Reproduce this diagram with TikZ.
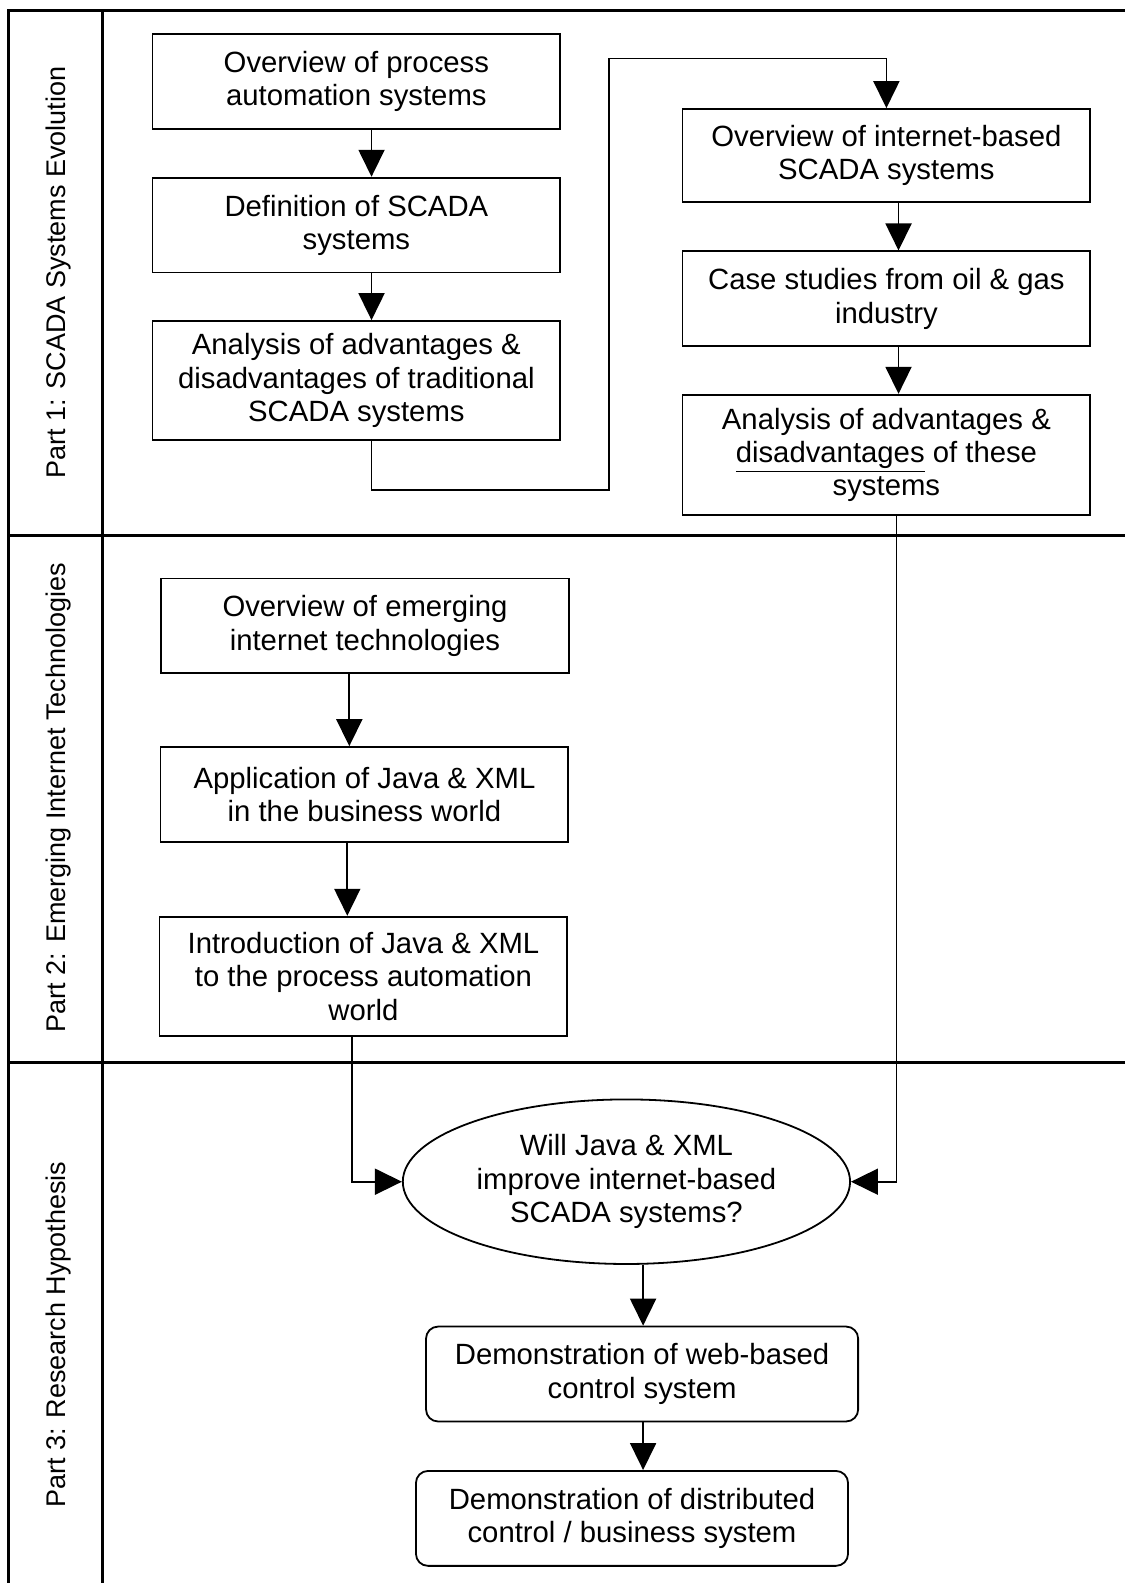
\documentclass[tikz,border=0pt]{standalone}
\usepackage{fontspec}
\setmainfont{Liberation Sans}
\usetikzlibrary{arrows.meta,shapes.geometric}
\newlength\pxu
\setlength\pxu{0.50494pt}
\begin{document}
\begin{tikzpicture}[x=\pxu,y=-\pxu,
  frame/.style={line width=1.5pt},
  box/.style={draw,line width=0.9pt,align=center,inner sep=0pt,
    minimum width=404\pxu,font=\fontsize{14.65pt}{16.65pt}\selectfont},
  rbox/.style={box,rounded corners=6pt,minimum width=428\pxu},
  oval/.style={draw,ellipse,line width=0.9pt,align=center,inner sep=0pt,
    minimum width=443\pxu,minimum height=163\pxu,font=\fontsize{14.65pt}{16.65pt}\selectfont},
  lane/.style={rotate=90,font=\fontsize{13.5pt}{16pt}\selectfont},
  arr/.style={line width=0.9pt,-{Triangle[width=13pt,length=13.5pt]}},
  link/.style={line width=0.9pt}]
\useasboundingbox (0,0) rectangle (1114,1568);
\fill[white] (0,0) rectangle (1114,1568);

% table frame
\draw[frame] (8,1568) -- (8,10) -- (1114,10);
\draw[frame] (102,10) -- (102,1568);
\draw[frame] (8,530) -- (1114,530);
\draw[frame] (8,1052) -- (1114,1052);

% lane titles
\node[lane] (l1) at (58,270) {Part 1: SCADA Systems Evolution};
\node[lane] (l2) at (58,790) {Part 2: Emerging Internet Technologies};
\node[lane] (l3) at (58,1322) {Part 3: Research Hypothesis};

% part 1
\node[box,minimum height=94\pxu] (A) at (353,81) {Overview of process\\automation systems};
\node[box,minimum height=94\pxu] (B) at (353,223) {Definition of SCADA\\systems};
\node[box,minimum height=118\pxu] (C) at (353,377) {Analysis of advantages \&\\disadvantages of traditional\\SCADA systems};
\node[box,minimum height=92\pxu] (D) at (878,154) {Overview of internet-based\\SCADA systems};
\node[box,minimum height=94\pxu] (E) at (878,296) {Case studies from oil \& gas\\industry};
\node[box,minimum height=119\pxu] (F) at (878,450.5) {Analysis of advantages \&\\\underline{disadvantages} of these\\systems};

% part 2
\node[box,minimum height=94\pxu] (G) at (361.5,620) {Overview of emerging\\internet technologies};
\node[box,minimum height=94\pxu] (H) at (361,787) {Application of Java \& XML\\in the business world};
\node[box,minimum height=118\pxu] (I) at (360,967) {Introduction of Java \& XML\\to the process automation\\world};

% part 3
\node[oval] (Q) at (620.5,1170.5) {Will Java \& XML\\improve internet-based\\SCADA systems?};
\node[rbox,minimum height=94\pxu] (J) at (636,1361) {Demonstration of web-based\\control system};
\node[rbox,minimum height=94\pxu] (K) at (626,1504) {Demonstration of distributed\\control / business system};

% connector columns and bends
\coordinate (xa) at (368,0);
\coordinate (xd) at (890,0);
\coordinate (xf) at (888,0);
\coordinate (xg) at (346,0);
\coordinate (xh) at (344,0);
\coordinate (xi) at (349,0);
\coordinate (xj) at (637,0);
\coordinate (c1) at (603,485);
\coordinate (c2) at (603,58);

% connectors
\draw[arr] (A.south -| xa) -- (B.north -| xa);
\draw[arr] (B.south -| xa) -- (C.north -| xa);
\draw[arr] (C.south -| xa) |- (c1) -- (c2) -| (D.north);
\draw[arr] (D.south -| xd) -- (E.north -| xd);
\draw[arr] (E.south -| xd) -- (F.north -| xd);
\draw[arr] (F.south -| xf) |- (Q.east);
\draw[arr] (G.south -| xg) -- (H.north -| xg);
\draw[arr] (H.south -| xh) -- (I.north -| xh);
\draw[arr] (I.south -| xi) |- (Q.west);
\draw[arr] (Q.south -| xj) -- (J.north -| xj);
\draw[arr] (J.south -| xj) -- (K.north -| xj);
\end{tikzpicture}
\end{document}
